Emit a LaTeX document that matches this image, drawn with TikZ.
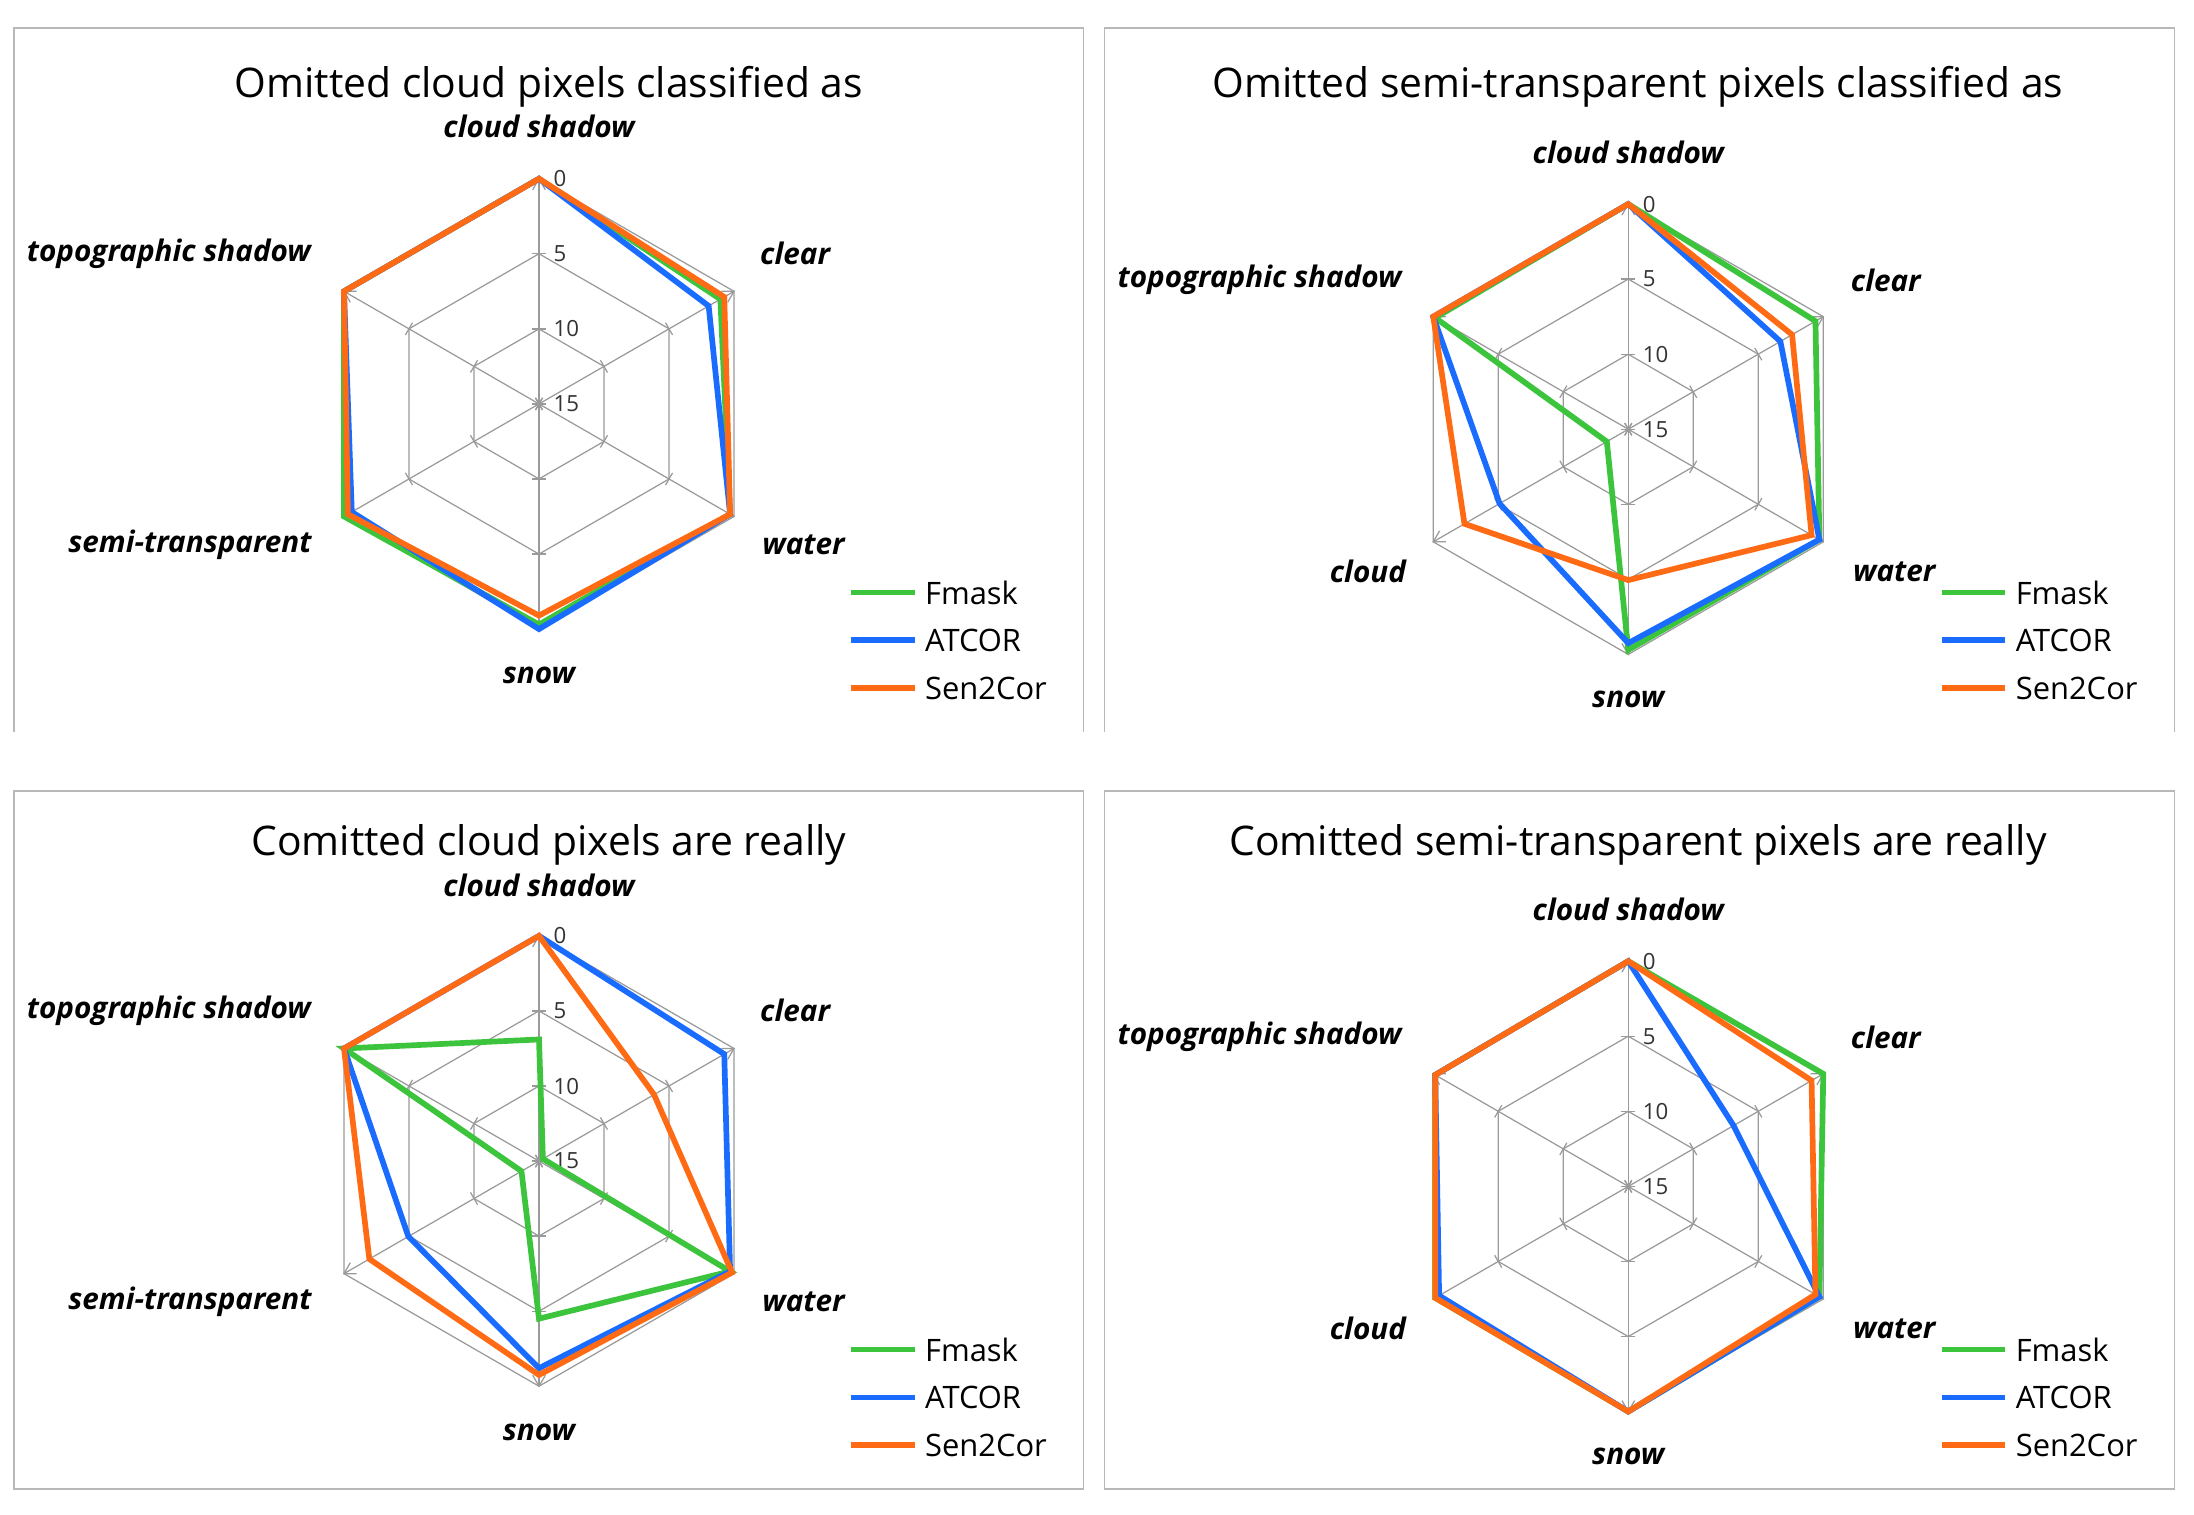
\documentclass[tikz,border=0pt]{standalone}
\usepackage{fontspec}
\setmainfont{Open Sans}
\definecolor{gF}{HTML}{3CC43C}
\definecolor{bA}{HTML}{1A6CFF}
\definecolor{oS}{HTML}{FF6A14}
\definecolor{gridc}{HTML}{9A9A9A}
\newcommand\myser[7]{\draw[#1,line width=2.3pt,line join=miter] (90:{#2*160}) -- (30:{#3*160}) -- (-30:{#4*160}) -- (-90:{#5*160}) -- (-150:{#6*160}) -- (150:{#7*160}) -- cycle;}
\newcommand\mygrid{%
  \foreach \r in {53.3,106.7,160}{\draw[gridc,line width=0.5pt] (90:\r)--(30:\r)--(-30:\r)--(-90:\r)--(-150:\r)--(150:\r)--cycle;}
  \foreach \a in {90,30,-30,-90,-150,150}{\draw[gridc,line width=0.5pt] (0,0)--(\a:160);
    \foreach \r in {0,53.3,106.7}{\draw[gridc,line width=0.5pt] ($(\a:\r)+(\a+90:5)$)--($(\a:\r)+(\a-90:5)$);}
    \draw[gridc,line width=0.5pt] ($(\a:160)+(\a+150:9)$)--(\a:160)--($(\a:160)+(\a-150:9)$);}
  \foreach \v/\r in {0/160,5/106.7,10/53.3,15/0}{\node[tick] at (10,\r) {\v};}}
\newcommand\mylegend[2]{%
  \draw[gF,line width=2.3pt] (#1,#2)--++(45,0); \node[leg] at (#1+52,#2) {Fmask};
  \draw[bA,line width=2.3pt] (#1,#2-34)--++(45,0); \node[leg] at (#1+52,#2-34) {ATCOR};
  \draw[oS,line width=2.3pt] (#1,#2-68)--++(45,0); \node[leg] at (#1+52,#2-68) {Sen2Cor};}
\usetikzlibrary{calc}
\begin{document}
\begin{tikzpicture}[x=0.02cm,y=0.02cm,
  ttl/.style={font=\fontsize{16.5}{18}\selectfont},
  cat/.style={font=\fontsize{12}{14}\selectfont\bfseries\itshape},
  leg/.style={anchor=west,inner sep=0pt,font=\fontsize{12.5}{14}\selectfont},
  tick/.style={anchor=west,inner sep=0pt,font=\fontsize{9}{10}\selectfont,text=black!80}]
\useasboundingbox (0,0) rectangle (1559,-1076);
\fill[white] (0,0) rectangle (1559,-1076);
% frames
\draw[gridc!70,line width=0.6pt] (10,-520)--(10,-20)--(770,-20)--(770,-520);
\draw[gridc!70,line width=0.6pt] (785,-520)--(785,-20)--(1545,-20)--(1545,-520);
\draw[gridc!70,line width=0.6pt] (10,-562) rectangle (770,-1058);
\draw[gridc!70,line width=0.6pt] (785,-562) rectangle (1545,-1058);
% titles
\node[ttl] (t1) at (390,-62) {Omitted cloud pixels classified as};
\node[ttl] (t2) at (1164,-62) {Omitted semi-transparent pixels classified as};
\node[ttl] (t3) at (390,-600) {Comitted cloud pixels are really};
\node[ttl] (t4) at (1164,-600) {Comitted semi-transparent pixels are really};
% panel 1
\begin{scope}[shift={(383,-287)}]
\mygrid
\myser{gF}{1}{.93}{.98}{.98}{1}{1}
\myser{bA}{1}{.87}{.98}{1}{.96}{1}
\myser{oS}{1}{.95}{.98}{.94}{.98}{1}
\end{scope}
\node[cat] at (383,-90) {cloud shadow};
\node[cat] at (565,-180) {clear};
\node[cat] at (571,-387) {water};
\node[cat] at (383,-480) {snow};
\node[cat] at (135,-387) {semi-transparent};
\node[cat] at (120,-180) {topographic shadow};
\mylegend{605}{-421}
% panel 2
\begin{scope}[shift={(1157,-305)}]
\mygrid
\myser{gF}{1}{.96}{.98}{.98}{.11}{.99}
\myser{bA}{1}{.78}{.98}{.95}{.66}{1}
\myser{oS}{1}{.84}{.94}{.67}{.84}{1}
\end{scope}
\node[cat] at (1157,-108) {cloud shadow};
\node[cat] at (1340,-199) {clear};
\node[cat] at (1346,-406) {water};
\node[cat] at (1157,-497) {snow};
\node[cat] at (972,-406) {cloud};
\node[cat] at (895,-199) {topographic shadow};
\mylegend{1380}{-421}
% panel 3
\begin{scope}[shift={(383,-825)}]
\mygrid
\myser{gF}{.54}{.02}{.98}{.70}{.09}{1}
\myser{bA}{1}{.95}{.98}{.92}{.67}{1}
\myser{oS}{1}{.59}{.99}{.95}{.87}{1}
\end{scope}
\node[cat] at (383,-629) {cloud shadow};
\node[cat] at (565,-718) {clear};
\node[cat] at (571,-925) {water};
\node[cat] at (383,-1018) {snow};
\node[cat] at (135,-925) {semi-transparent};
\node[cat] at (120,-718) {topographic shadow};
\mylegend{605}{-959}
% panel 4
\begin{scope}[shift={(1157,-843)}]
\mygrid
\myser{gF}{1}{1}{.98}{1}{.99}{.99}
\myser{bA}{1}{.54}{.98}{1}{.97}{.99}
\myser{oS}{1}{.94}{.96}{1}{.99}{.99}
\end{scope}
\node[cat] at (1157,-646) {cloud shadow};
\node[cat] at (1340,-737) {clear};
\node[cat] at (1346,-944) {water};
\node[cat] at (1157,-1035) {snow};
\node[cat] at (972,-944) {cloud};
\node[cat] at (895,-737) {topographic shadow};
\mylegend{1380}{-959}
\end{tikzpicture}
\end{document}
